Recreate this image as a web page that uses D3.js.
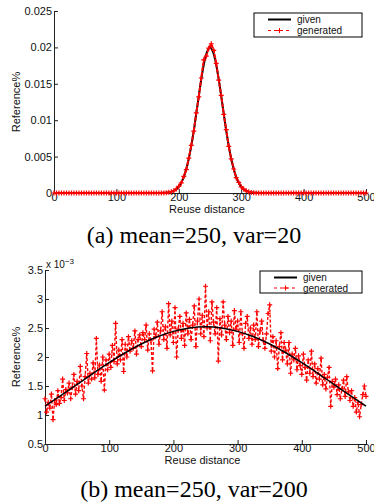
<!DOCTYPE html>
<html>
<head>
<meta charset="utf-8">
<script src="https://cdn.jsdelivr.net/npm/d3@7"></script>
<style>
  body { margin: 0; background: #fff; }
  svg { display: block; }
  text { font-family: "Liberation Sans", Arial, sans-serif; fill: #111; }
  .cap { font-family: "Liberation Serif", "Times New Roman", serif; font-size: 24px; fill: #000; }
</style>
</head>
<body>
<svg width="374" height="504"></svg>
<script>
// (a) mean=250, var=20  -- "given" curve
const givenAx = [0, 170, 175, 180, 185, 190, 195, 200, 205, 210, 215, 220, 225, 230, 235, 240, 245,
  250, 255, 260, 265, 270, 275, 280, 285, 290, 295, 300, 305, 310, 315, 320, 325, 330, 500];
const givenAy = [0, 0.0000067, 0.0000175, 0.0000436, 0.000102, 0.000222, 0.000455, 0.000876, 0.00159,
  0.0027, 0.00432, 0.00648, 0.00913, 0.0121, 0.01506, 0.0176, 0.01933, 0.01995, 0.01933, 0.0176,
  0.01506, 0.0121, 0.00913, 0.00648, 0.00432, 0.0027, 0.00159, 0.000876, 0.000455, 0.000222,
  0.000102, 0.0000436, 0.0000175, 0.0000067, 0];

// (a) generated samples, one every 4 units from 0 to 500
const genAy = [
  0, 0, 0, 0, 0, 0, 0, 0, 0, 0,
  0, 0, 0, 0, 0, 0, 0, 0, 0, 0,
  0, 0, 0, 0, 0, 0, 0, 0, 0, 0,
  0, 0, 0, 0, 0, 0, 0, 0, 0, 0,
  0, 0, 0, 0, 0,
  0.00005, 0.00009, 0.00018, 0.00031, 0.00055, 0.00092, 0.00138, 0.00228, 0.00322, 0.0048,
  0.00655, 0.0085, 0.0110, 0.0132, 0.0158, 0.0183, 0.0188, 0.0199, 0.0205, 0.0196,
  0.0178, 0.0155, 0.0134, 0.0108, 0.0087, 0.0064, 0.0047, 0.0033, 0.0021, 0.00145,
  0.00085, 0.00054, 0.0003, 0.00016, 0.00008, 0.00004,
  0, 0, 0, 0, 0, 0, 0, 0, 0, 0,
  0, 0, 0, 0, 0, 0, 0, 0, 0, 0,
  0, 0, 0, 0, 0, 0, 0, 0, 0, 0,
  0, 0, 0, 0, 0, 0, 0, 0, 0, 0,
  0, 0, 0, 0, 0
];
const yTicksA = [0, 0.005, 0.01, 0.015, 0.02, 0.025];
const yLabelsA = ["0", "0.005", "0.01", "0.015", "0.02", "0.025"];

// (b) mean=250, var=200  (values in units of 10^-3)
const givenBx = [0, 25, 50, 75, 100, 125, 150, 175, 200, 225, 250, 275, 300, 325, 350, 375, 400, 425, 450, 475, 500];
const givenBy = [1.154, 1.338, 1.528, 1.719, 1.902, 2.073, 2.224, 2.349, 2.442, 2.5, 2.52, 2.5, 2.442,
  2.349, 2.224, 2.073, 1.902, 1.719, 1.528, 1.338, 1.154];

// (b) generated samples, one every 2.5 units from 0 to 500
const genBy = [
  1.28, 1.05, 1.22, 1.12, 1.36, 0.92, 1.25, 1.18, 1.42, 1.20,
  1.30, 1.62, 1.25, 1.44, 1.38, 1.55, 1.28, 1.48, 1.70, 1.36,
  1.58, 1.42, 1.84, 1.50, 1.28, 1.66, 2.06, 1.55, 1.72, 1.62,
  1.90, 1.64, 2.32, 1.70, 1.86, 1.58, 2.00, 1.43, 1.95, 1.78,
  2.05, 1.82, 2.20, 1.92, 2.58, 1.88, 2.12, 1.95, 2.30, 1.75,
  2.22, 2.00, 2.35, 2.10, 2.28, 2.15, 2.45, 2.05, 2.30, 2.38,
  2.18, 2.42, 2.30, 2.55, 2.12, 2.40, 2.28, 1.76, 2.48, 2.35,
  2.60, 2.22, 2.45, 2.78, 2.30, 2.52, 2.15, 2.92, 2.38, 2.62,
  2.25, 2.85, 2.00, 2.48, 2.70, 2.32, 2.58, 2.20, 2.76, 2.40,
  2.65, 2.30, 2.55, 2.88, 2.18, 2.62, 3.00, 2.40, 2.72, 2.35,
  3.22, 2.50, 2.78, 2.28, 2.95, 2.60, 2.40, 2.85, 1.93, 2.66,
  2.38, 2.95, 2.55, 2.30, 2.70, 2.42, 2.62, 2.20, 2.80, 2.48,
  2.62, 2.25, 2.78, 2.40, 2.15, 2.58, 2.70, 2.32, 2.50, 2.22,
  2.55, 2.30, 2.78, 2.18, 2.45, 2.62, 2.28, 2.15, 2.40, 2.75,
  2.90, 2.10, 2.35, 2.00, 2.28, 1.80, 2.18, 2.42, 1.95, 2.25,
  2.12, 1.88, 2.25, 1.72, 2.05, 1.95, 2.15, 1.78, 2.02, 1.85,
  1.70, 2.05, 1.82, 1.60, 1.95, 1.72, 2.10, 1.66, 1.88, 1.55,
  1.80, 1.62, 1.98, 1.52, 1.70, 1.45, 1.65, 1.82, 1.15, 1.58,
  1.48, 1.62, 1.35, 1.52, 1.28, 1.45, 1.60, 1.32, 1.66, 1.40,
  1.25, 1.42, 1.15, 1.30, 1.05, 1.22, 0.97, 1.18, 1.35, 1.50,
  1.32
];
const yTicksB = [0.5, 1, 1.5, 2, 2.5, 3, 3.5];
const yLabelsB = ["0.5", "1", "1.5", "2", "2.5", "3", "3.5"];

const xTicks = [0, 100, 200, 300, 400, 500];
const legendNames = ["given", "generated"];
const captions = ["(a) mean=250, var=20", "(b) mean=250, var=200"];

const svg = d3.select("svg");
const plus = "M-2.5,0H2.5M0,-2.5V2.5";

function panel(opt) {
  const x = d3.scaleLinear().domain([0, 500]).range([opt.left, opt.right]);
  const y = d3.scaleLinear().domain(opt.yDomain).range([opt.bottom, opt.top]);
  const g = svg.append("g");

  // axes (ticks point inward, like the original)
  const xa = g.append("g").attr("transform", `translate(0,${opt.bottom})`)
    .call(d3.axisBottom(x).tickValues(xTicks).tickSize(-4).tickPadding(1).tickSizeOuter(0));
  const ya = g.append("g").attr("transform", `translate(${opt.left},0)`)
    .call(d3.axisLeft(y).tickValues(opt.yTicks).tickFormat((d, i) => opt.yLabels[i])
      .tickSize(-4).tickPadding(2).tickSizeOuter(0));
  [xa, ya].forEach(a => {
    a.selectAll("text").style("font-size", "11px").attr("fill", "#111");
    a.selectAll("line,path").attr("stroke", "#222");
  });
  xa.selectAll("text").attr("dy", "0.62em");

  const drawGiven = () => g.append("path")
    .datum(opt.givenX.map((v, i) => [v, opt.givenY[i]]))
    .attr("fill", "none").attr("stroke", "#000").attr("stroke-width", opt.givenW)
    .attr("d", d3.line().x(d => x(d[0])).y(d => y(d[1])).curve(d3.curveMonotoneX));

  if (!opt.givenOnTop) drawGiven();

  // generated
  const gen = opt.genY.map((v, i) => [i * opt.genStep, v]);
  g.append("path").datum(gen)
    .attr("fill", "none").attr("stroke", "#f00").attr("stroke-width", opt.genW)
    .attr("stroke-dasharray", opt.dash)
    .attr("d", d3.line().x(d => x(d[0])).y(d => y(d[1])));
  g.append("g").selectAll("path").data(gen).join("path")
    .attr("transform", d => `translate(${x(d[0])},${y(d[1])})`)
    .attr("d", plus).attr("stroke", "#f00").attr("stroke-width", 1.2);

  if (opt.givenOnTop) drawGiven();

  // labels
  g.append("text").attr("x", (opt.left + opt.right) / 2 - 3).attr("y", opt.bottom + 20)
    .attr("text-anchor", "middle").style("font-size", "11px").text("Reuse distance");
  g.append("text").attr("transform", `translate(${opt.ylabX},${(opt.top + opt.bottom) / 2}) rotate(-90)`)
    .attr("text-anchor", "middle").style("font-size", "11px").text("Reference%");
  g.append("text").attr("class", "cap").attr("x", 194).attr("y", opt.capY)
    .attr("text-anchor", "middle").text(opt.caption);

  // legend
  const L = opt.legend;
  g.append("rect").attr("x", L.x).attr("y", L.y).attr("width", L.w).attr("height", L.h)
    .attr("fill", "#fff").attr("stroke", "#000").attr("stroke-width", 1);
  legendNames.forEach((name, i) => {
    const ry = L.y + 6.5 + i * L.gap;
    const s = g.append("line").attr("x1", L.x + 14).attr("x2", L.x + 37).attr("y1", ry).attr("y2", ry)
      .attr("stroke", i ? "#f00" : "#000").attr("stroke-width", i ? 1 : 2);
    if (i) {
      s.attr("stroke-dasharray", "3,3");
      g.append("path").attr("transform", `translate(${L.x + 25.5},${ry})`).attr("d", plus)
        .attr("stroke", "#f00");
    }
    g.append("text").attr("x", L.x + 43).attr("y", ry + 3.6).style("font-size", "10px").text(name);
  });
  return g;
}

panel({
  left: 54, right: 366, top: 11, bottom: 193, yDomain: [0, 0.025],
  yTicks: yTicksA, yLabels: yLabelsA,
  givenX: givenAx, givenY: givenAy, givenW: 2, givenOnTop: false,
  genY: genAy, genStep: 4, genW: 2, dash: "4,1",
  ylabX: 20, capY: 243, caption: captions[0],
  legend: { x: 254, y: 13, w: 108, h: 24, gap: 11 }
});

const pb = panel({
  left: 45, right: 366, top: 270, bottom: 444, yDomain: [0.5, 3.5],
  yTicks: yTicksB, yLabels: yLabelsB,
  givenX: givenBx, givenY: givenBy, givenW: 1.5, givenOnTop: true,
  genY: genBy, genStep: 2.5, genW: 1.4, dash: "3,2",
  ylabX: 20, capY: 497, caption: captions[1],
  legend: { x: 260, y: 271, w: 102, h: 22, gap: 10.5 }
});

// exponent label
const ex = pb.append("text").attr("x", 46).attr("y", 268).style("font-size", "10px");
ex.append("tspan").text("x 10");
ex.append("tspan").attr("dy", -4).style("font-size", "8px").text("\u22123");
</script>
</body>
</html>
